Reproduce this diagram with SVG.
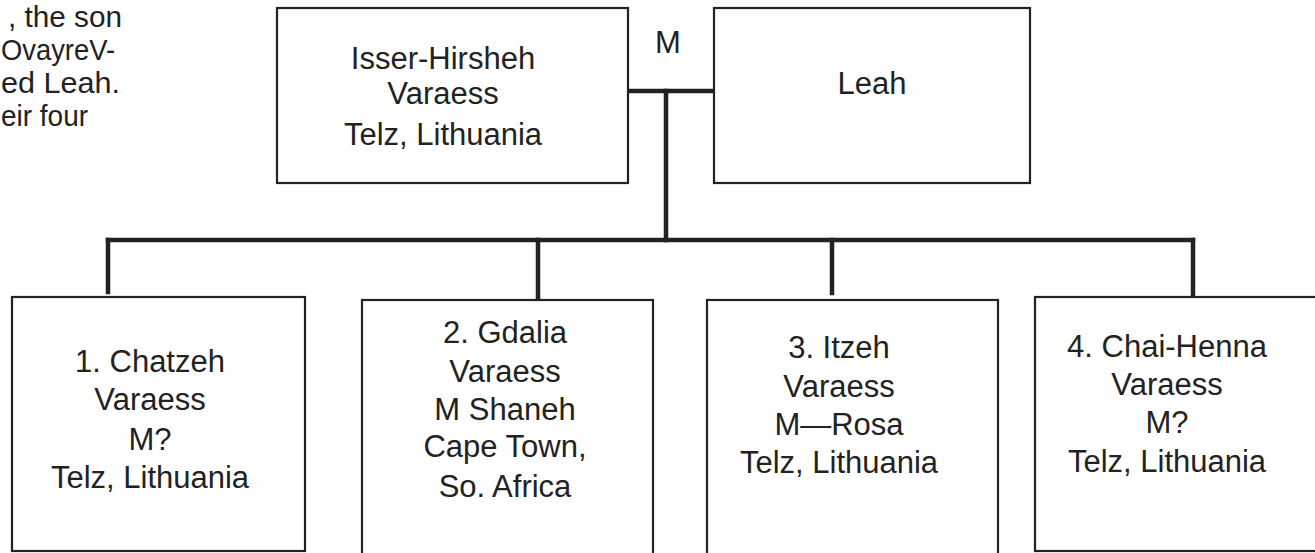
<svg xmlns="http://www.w3.org/2000/svg" width="1315" height="553" viewBox="0 0 1315 553">
<style>
.box{fill:#fff;stroke:#222;stroke-width:2.2}
.t{font-family:"Liberation Sans",Arial,Helvetica,sans-serif;font-size:31px;fill:#222;text-anchor:middle}
.p{font-family:"Liberation Sans",Arial,Helvetica,sans-serif;font-size:30px;fill:#222;text-anchor:start}
.bar{stroke:#222;stroke-width:4.5;fill:none;stroke-linecap:square}
</style>
<rect width="1315" height="553" fill="#fff"/>
<g id="paragraph">
<text class="p" x="8" y="27" textLength="114" lengthAdjust="spacingAndGlyphs">, the son</text>
<text class="p" x="1" y="60" textLength="114" lengthAdjust="spacingAndGlyphs">OvayreV-</text>
<text class="p" x="1" y="93" textLength="119" lengthAdjust="spacingAndGlyphs">ed Leah.</text>
<text class="p" x="1" y="126" textLength="87" lengthAdjust="spacingAndGlyphs">eir four</text>
</g>
<g id="connectors">
<line class="bar" x1="629" y1="91" x2="713" y2="91"/>
<line class="bar" x1="666" y1="91" x2="666" y2="240"/>
<line class="bar" x1="108" y1="240" x2="1193" y2="240"/>
<line class="bar" x1="108" y1="240" x2="108" y2="292"/>
<line class="bar" x1="538" y1="240" x2="538" y2="297"/>
<line class="bar" x1="832" y1="240" x2="832" y2="293"/>
<line class="bar" x1="1193" y1="240" x2="1193" y2="299"/>
<text class="t" x="668" y="53">M</text>
</g>
<g id="isser">
<rect class="box" x="277" y="8" width="351" height="175"/>
<text class="t" x="443" y="69">Isser-Hirsheh</text>
<text class="t" x="443" y="104">Varaess</text>
<text class="t" x="443" y="145">Telz, Lithuania</text>
</g>
<g id="leah">
<rect class="box" x="714" y="8" width="316" height="175"/>
<text class="t" x="872" y="94">Leah</text>
</g>
<g id="child1">
<rect class="box" x="12" y="297" width="293" height="254"/>
<text class="t" x="150" y="372">1. Chatzeh</text>
<text class="t" x="150" y="410">Varaess</text>
<text class="t" x="150" y="450">M?</text>
<text class="t" x="150" y="488">Telz, Lithuania</text>
</g>
<g id="child2">
<rect class="box" x="362" y="300" width="291" height="260"/>
<text class="t" x="505" y="343">2. Gdalia</text>
<text class="t" x="505" y="382">Varaess</text>
<text class="t" x="505" y="420">M Shaneh</text>
<text class="t" x="505" y="457">Cape Town,</text>
<text class="t" x="505" y="497">So. Africa</text>
</g>
<g id="child3">
<rect class="box" x="707" y="300" width="291" height="260"/>
<text class="t" x="839" y="358">3. Itzeh</text>
<text class="t" x="839" y="397">Varaess</text>
<text class="t" x="839" y="435">M—Rosa</text>
<text class="t" x="839" y="473">Telz, Lithuania</text>
</g>
<g id="child4">
<rect class="box" x="1035" y="297" width="300" height="254"/>
<text class="t" x="1167" y="357">4. Chai-Henna</text>
<text class="t" x="1167" y="395">Varaess</text>
<text class="t" x="1167" y="433">M?</text>
<text class="t" x="1167" y="472">Telz, Lithuania</text>
</g>
</svg>
